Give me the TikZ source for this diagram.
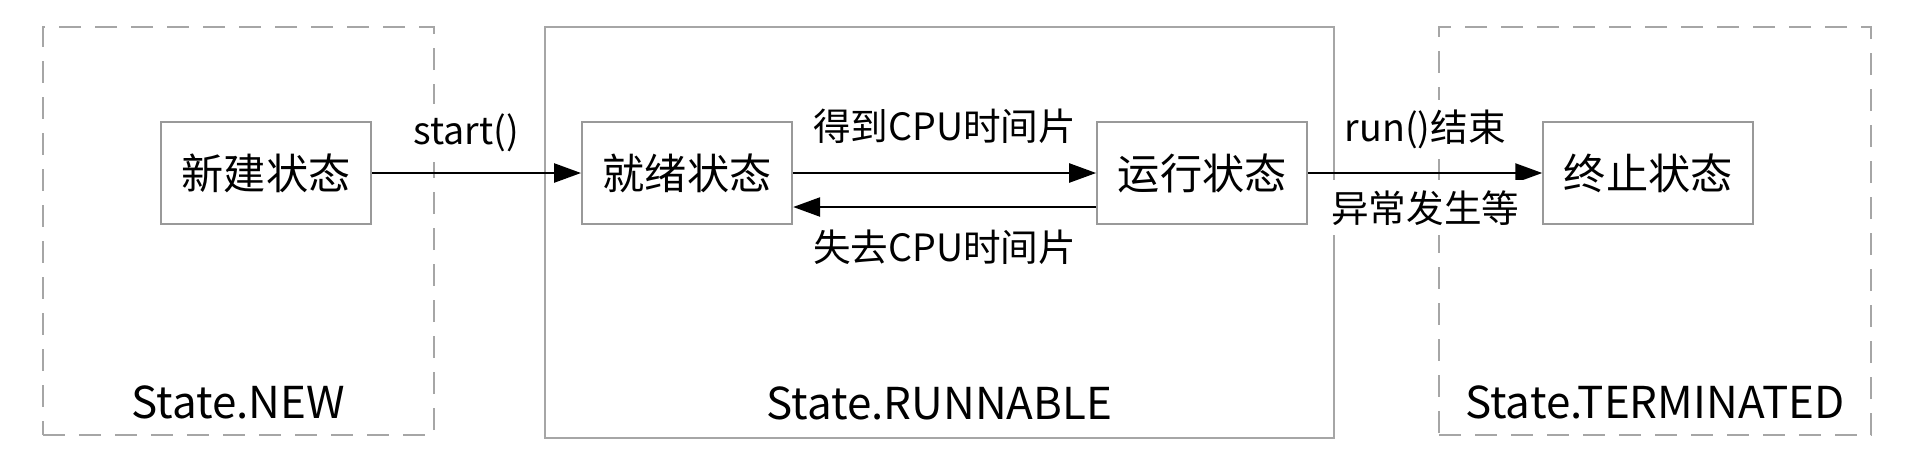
\documentclass[tikz,border=0pt]{standalone}
\usepackage{fontspec}
\setmainfont{Noto Sans CJK SC}
\usetikzlibrary{positioning,arrows.meta}

\begin{document}
\begin{tikzpicture}
		% styles
		\tikzset{
			font=\fontsize{12pt}{14pt}\selectfont,
			grpdash/.style={draw=black!35, dashed, dash pattern=on 2.2mm off 1.4mm, line width=0.6pt, rectangle, minimum width=39.1mm, minimum height=40.8mm, inner sep=0pt},
			grpsolid/.style={draw=black!35, line width=0.6pt, rectangle, minimum width=78.9mm, minimum height=41.1mm, inner sep=0pt},
			state/.style={draw=black!40, line width=0.6pt, rectangle, minimum width=21mm, minimum height=10.2mm, align=center, inner sep=1pt},
			grplabel/.style={inner sep=0pt, font=\fontsize{12.5pt}{15pt}\selectfont},
			lbl/.style={fill=white, inner sep=1mm, font=\fontsize{10.7pt}{13pt}\selectfont},
			arr/.style={-{Triangle[length=2.7mm, width=1.9mm]}, line width=0.7pt}
		}
		\useasboundingbox (0,0) rectangle (19.07,4.55);

		% group frames
		\node[grpdash] (grpnew) at (2.385,2.24) {};
		\node[grpsolid] (grprun) at (9.395,2.225) {};
		\node[grpdash, minimum width=43.2mm] (grpterm) at (16.55,2.24) {};

		\node[grplabel] (newlbl) at ([yshift=3.4mm]grpnew.south) {State.NEW};
		\node[grplabel] (runlbl) at ([yshift=3.6mm]grprun.south) {State.RUNNABLE};
		\node[grplabel] (termlbl) at ([yshift=3.4mm]grpterm.south) {State.TERMINATED};

		% nodes
		\node[state] (xinjian) at (2.66,2.82) {新建状态};
		\node[state, right=20.9mm of xinjian] (jiuxu) {就绪状态};
		\node[state, right=30.3mm of jiuxu] (yunxing) {运行状态};
		\node[state, right=23.4mm of yunxing] (zhongzhi) {终止状态};

		% connections
		\draw[arr] (xinjian) -- (jiuxu) node[lbl, pos=0.45, above=1mm] {start()};
		\draw[arr] (jiuxu) -- (yunxing) node[lbl, midway, above=1.8mm] {得到CPU时间片};
		\draw[arr] ([yshift=-3.4mm]yunxing.west) -- ([yshift=-3.4mm]jiuxu.east) node[lbl, midway, below=1.2mm] {失去CPU时间片};
		\draw[arr] (yunxing) -- (zhongzhi)
			node[lbl, midway, above=1.3mm] {run()结束}
			node[lbl, midway, below=0.6mm] {异常发生等};
\end{tikzpicture}
\end{document}
